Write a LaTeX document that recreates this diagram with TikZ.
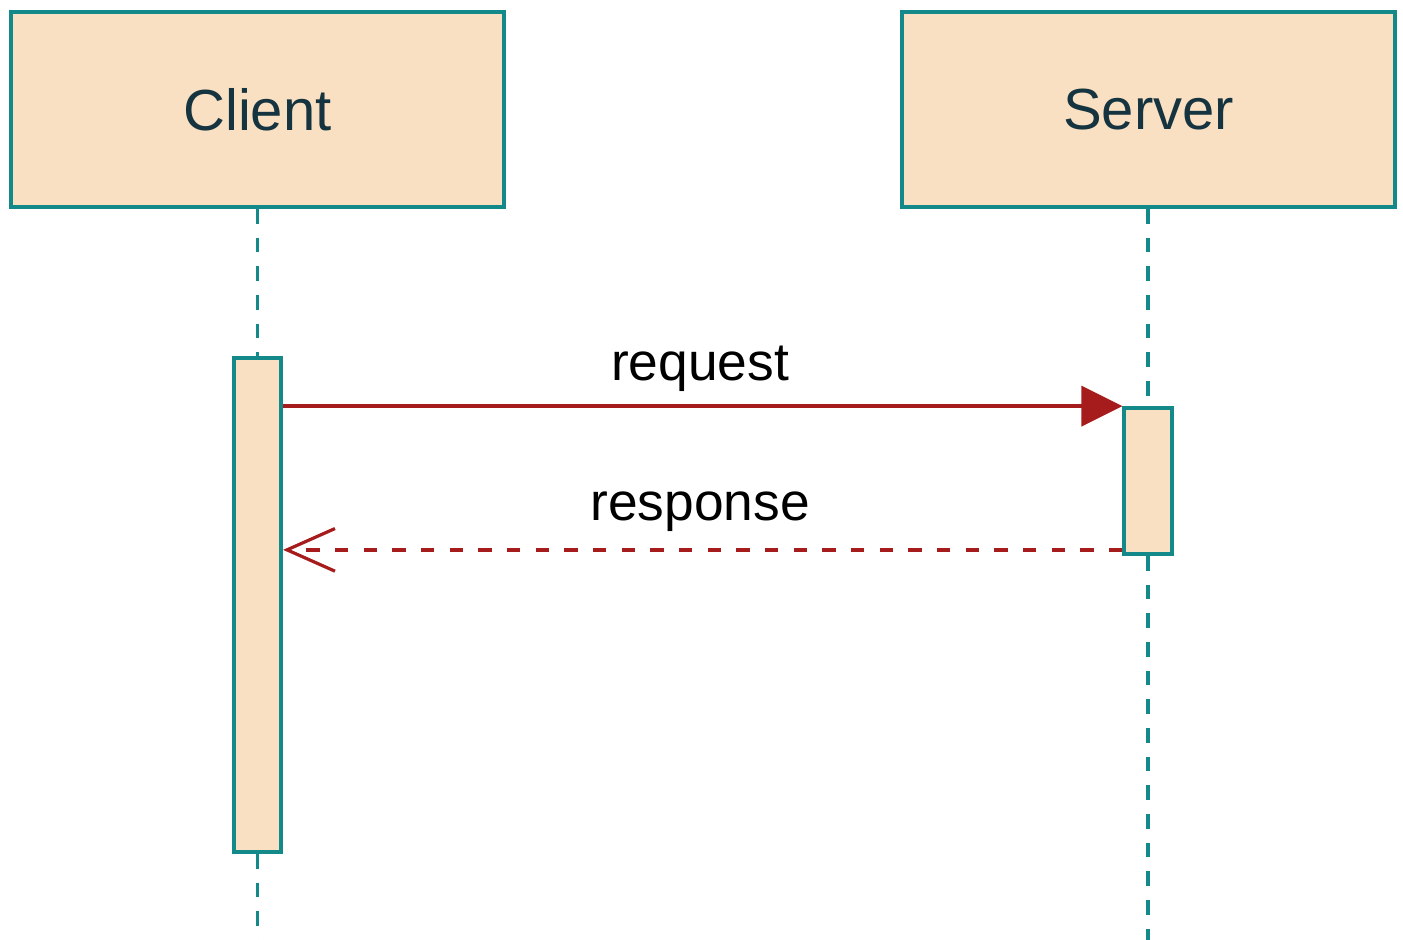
\documentclass[tikz,border=0pt]{standalone}
\usepackage{fontspec}
\setmainfont{Liberation Sans}
\usepackage{tikz}
\usetikzlibrary{arrows.meta}
\usepackage{xcolor}
\definecolor{headfill}{HTML}{F9E0C2}
\definecolor{tealline}{HTML}{14898A}
\definecolor{msgred}{HTML}{A61C1C}
\definecolor{headtext}{HTML}{15343F}

\tikzset{
  headbox/.style={draw=tealline, fill=headfill, line width=2.8pt, inner sep=0pt,
    minimum width=370pt, minimum height=146.5pt, text=headtext, font=\fontsize{43.5}{50}\selectfont},
  activebar/.style={draw=tealline, fill=headfill, line width=2.8pt, inner sep=0pt, minimum width=35.5pt},
  lifeline/.style={draw=tealline, line width=2.8pt, dash pattern=on 11pt off 10.5pt},
  msglabel/.style={anchor=base, inner sep=0pt, font=\fontsize{40}{46}\selectfont},
}

\begin{document}
\begin{tikzpicture}[x=0.75pt,y=0.75pt,yscale=-1,xscale=1]
\useasboundingbox (0,0) rectangle (1403,939);

%Shape: Rectangle [client] 
\node[headbox] (client) at (257.5,109.5) {Client};
%Shape: Rectangle [server] 
\node[headbox] (server) at (1148.5,109.5) {Server};

%Shape: Rectangle [clientbar] 
\node[activebar, minimum height=370.5pt] (clientbar) at (257.5,605) {};
%Shape: Rectangle [serverbar] 
\node[activebar, minimum height=109.5pt] (serverbar) at (1148,481) {};

\coordinate (clientend) at (257.5,945);
\coordinate (serverend) at (1148,945);
\coordinate (respstart) at ([yshift=-4.5pt]serverbar.south west);

%Dashed Lines [lifelines] 
\draw[lifeline] (client.south) -- (client.south |- clientbar.north);
\draw[lifeline] (clientbar.south) -- (clientend);
\draw[lifeline] (serverbar.north |- server.south) -- (serverbar.north);
\draw[lifeline] (serverbar.south) -- (serverend);

%Straight Lines [request] 
\draw[msgred, line width=2.6pt, -{Triangle[length=30.75pt, width=30pt]}] (clientbar.east |- serverbar.north) -- (serverbar.north west);
%Dashed Lines [response] 
\draw[msgred, line width=2.6pt, dash pattern=on 10pt off 11.5pt, -{Straight Barb[length=36pt, width=32pt, line width=2.4pt]}] (respstart) -- (clientbar.east |- respstart);

% Text Node
\node[msglabel] (reqlabel) at (700,380) {request};
% Text Node
\node[msglabel] (resplabel) at (700,520) {response};

\end{tikzpicture}
\end{document}
